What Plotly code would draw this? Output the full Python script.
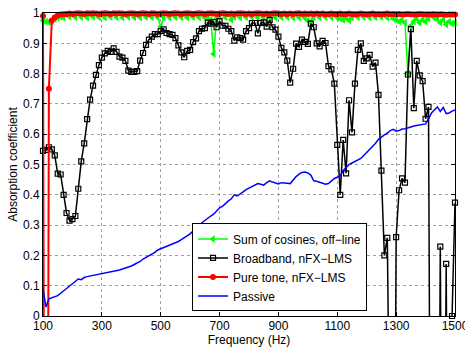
import plotly.graph_objects as go

freq = list(range(100, 1501, 10))

sum_cosines = [
    0.975, 0.972, 0.970, 0.974, 0.980, 0.984, 0.988, 0.985, 1.001, 0.988,
    1.004, 0.986, 1.002, 0.987, 1.004, 0.985, 1.001, 0.988, 1.004, 0.986,
    1.002, 0.985, 1.004, 0.987, 1.001, 0.986, 1.004, 0.985, 1.002, 0.987,
    1.004, 0.986, 1.001, 0.985, 1.004, 0.987, 1.002, 0.986, 1.004, 0.985,
    0.955, 0.986, 1.004, 0.985, 1.002, 0.987, 1.004, 0.986, 1.001, 0.985,
    1.004, 0.987, 1.002, 0.986, 1.004, 0.985, 0.982, 0.978, 0.865, 0.982,
    0.988, 1.004, 0.986, 1.002, 0.978, 0.987, 1.004, 0.985, 1.001, 0.986,
    1.004, 0.987, 1.002, 0.985, 1.004, 0.986, 1.001, 0.987, 1.004, 0.985,
    1.002, 0.986, 1.004, 0.987, 1.001, 0.985, 1.004, 0.986, 1.002, 0.984,
    0.975, 0.972, 0.986, 1.002, 0.985, 1.004, 0.987, 1.001, 0.986, 1.004,
    0.985, 0.982, 0.978, 0.984, 0.976, 0.985, 1.002, 0.986, 1.004, 0.987,
    1.001, 0.985, 1.004, 0.986, 1.002, 0.987, 1.004, 0.985, 1.001, 0.982,
    0.978, 0.972, 0.976, 0.968, 0.800, 0.958, 0.972, 0.982, 0.968, 0.978,
    0.972, 0.982, 0.995, 0.984, 0.980, 0.968, 0.978, 0.962, 0.972, 0.965,
    0.968,
]

broadband = [
    0.545, 0.548, 0.557, 0.550, 0.530, 0.470, 0.467, 0.400, 0.340, 0.315,
    0.320, 0.330, 0.420, 0.510, 0.570, 0.650, 0.714, 0.760, 0.796, 0.828,
    0.853, 0.867, 0.875, 0.872, 0.883, 0.872, 0.856, 0.853, 0.842, 0.810,
    0.806, 0.806, 0.808, 0.843, 0.868, 0.895, 0.912, 0.922, 0.930, 0.930,
    0.940, 0.946, 0.934, 0.930, 0.928, 0.917, 0.893, 0.870, 0.854, 0.875,
    0.878, 0.904, 0.916, 0.940, 0.948, 0.950, 0.968, 0.965, 0.970, 0.953,
    0.973, 0.958, 0.958, 0.948, 0.940, 0.909, 0.920, 0.917, 0.912, 0.940,
    0.950, 0.967, 0.967, 0.933, 0.967, 0.969, 0.955, 0.977, 0.953, 0.945,
    0.922, 0.885, 0.870, 0.843, 0.770, 0.816, 0.899, 0.888, 0.912, 0.905,
    0.898, 0.965, 0.953, 0.900, 0.890, 0.908, 0.901, 0.825, 0.814, 0.767,
    0.565, 0.400, 0.581, 0.471, 0.712, 0.606, 0.767, 0.878, 0.900, 0.842,
    0.850, 0.862, 0.823, 0.836, 0.730, 0.480, 0.200, 0.258, -1.5, -1.5,
    0.260, 0.415, 0.454, 0.440, 0.797, 0.947, 0.686, 0.842, 0.794, 0.775,
    0.651, 0.690, -1.5, -1.5, -1.5, 0.229, -1.5, 0.172, -1.5, 0.000,
    0.374,
]

pure_tone = [
    0.990, -3.0, 0.750, 0.975, 0.985, 0.992, 0.995, 0.996, 0.997, 0.998,
    0.997, 0.998, 0.999, 0.998, 0.997, 0.999, 0.998, 0.999, 0.998, 0.997,
    0.998, 0.999, 0.998, 0.997, 0.999, 0.998, 0.999, 0.998, 0.997, 0.998,
    0.999, 0.998, 0.997, 0.998, 0.999, 0.998, 0.997, 0.999, 0.998, 0.997,
    0.998, 0.999, 0.998, 0.997, 0.998, 0.999, 0.998, 0.997, 0.998, 0.999,
    0.998, 0.997, 0.998, 0.999, 0.998, 0.997, 0.998, 0.999, 0.998, 0.997,
    0.998, 0.999, 0.998, 0.997, 0.998, 0.997, 0.998, 0.999, 0.998, 0.997,
    0.998, 0.997, 0.998, 0.999, 0.998, 0.997, 0.998, 0.997, 0.998, 0.999,
    0.998, 0.997, 0.998, 0.997, 0.998, 0.997, 0.998, 0.999, 0.997, 0.998,
    0.997, 0.998, 0.997, 0.998, 0.997, 0.998, 0.996, 0.997, 0.998, 0.997,
    0.997, 0.998, 0.996, 0.997, 0.998, 0.997, 0.996, 0.997, 0.998, 0.997,
    0.996, 0.997, 0.998, 0.996, 0.997, 0.996, 0.997, 0.998, 0.996, 0.997,
    0.996, 0.997, 0.995, 0.996, 0.997, 0.996, 0.995, 0.996, 0.997, 0.996,
    0.995, 0.996, 0.995, 0.996, 0.995, 0.996, 0.995, 0.994, 0.995, 0.995,
    0.995,
]

passive = [
    0.089, 0.030, 0.057, 0.060, 0.063, 0.067, 0.075, 0.083, 0.092, 0.100,
    0.108, 0.115, 0.122, 0.120, 0.127, 0.130, 0.132, 0.134, 0.136, 0.137,
    0.138, 0.140, 0.144, 0.146, 0.147, 0.148, 0.152, 0.155, 0.158, 0.162,
    0.165, 0.170, 0.174, 0.180, 0.188, 0.193, 0.198, 0.204, 0.210, 0.218,
    0.222, 0.226, 0.228, 0.233, 0.236, 0.241, 0.246, 0.252, 0.258, 0.265,
    0.271, 0.280, 0.288, 0.297, 0.308, 0.316, 0.322, 0.330, 0.336, 0.345,
    0.357, 0.362, 0.372, 0.380, 0.387, 0.400, 0.396, 0.402, 0.410, 0.417,
    0.422, 0.427, 0.433, 0.437, 0.435, 0.432, 0.440, 0.446, 0.442, 0.440,
    0.436, 0.440, 0.440, 0.438, 0.437, 0.450, 0.460, 0.468, 0.474, 0.475,
    0.472, 0.465, 0.446, 0.445, 0.442, 0.438, 0.435, 0.437, 0.445, 0.454,
    0.458, 0.462, 0.480, 0.490, 0.500, 0.505, 0.510, 0.515, 0.520, 0.530,
    0.540, 0.548, 0.558, 0.570, 0.583, 0.592, 0.598, 0.603, 0.612, 0.616,
    0.610, 0.612, 0.617, 0.618, 0.620, 0.624, 0.627, 0.629, 0.630, 0.631,
    0.634, 0.650, 0.670, 0.680, 0.690, 0.675, 0.688, 0.668, 0.670, 0.676,
    0.680,
]

x_ticks = [100, 300, 500, 700, 900, 1100, 1300, 1500]
y_ticks = [0, 0.1, 0.2, 0.3, 0.4, 0.5, 0.6, 0.7, 0.8, 0.9, 1]
y_tick_labels = ["0", "0.1", "0.2", "0.3", "0.4", "0.5", "0.6", "0.7", "0.8", "0.9", "1"]

names = ["Sum of cosines, off\u2212line", "Broadband, nFX\u2212LMS",
         "Pure tone, nFX\u2212LMS", "Passive"]

FONT = "Liberation Sans, Arial, sans-serif"

fig = go.Figure()
fig.add_trace(go.Scatter(
    x=freq, y=sum_cosines, name=names[0], mode="lines+markers",
    line=dict(color="#00ff00", width=1.5),
    marker=dict(symbol="triangle-left", size=7, color="#00ff00"),
    cliponaxis=False))
fig.add_trace(go.Scatter(
    x=freq, y=broadband, name=names[1], mode="lines+markers",
    line=dict(color="black", width=1.5),
    marker=dict(symbol="square-open", size=5, color="black", line=dict(width=1.2)),
    cliponaxis=False))
fig.add_trace(go.Scatter(
    x=freq, y=pure_tone, name=names[2], mode="lines+markers",
    line=dict(color="#ff0000", width=2),
    marker=dict(symbol="circle", size=6, color="#ff0000"),
    cliponaxis=False))
fig.add_trace(go.Scatter(
    x=freq, y=passive, name=names[3], mode="lines",
    line=dict(color="#0000ff", width=1.5)))

axis_common = dict(
    showline=True, linecolor="black", linewidth=1, mirror="ticks",
    ticks="inside", ticklen=4, tickcolor="black",
    showgrid=True, gridcolor="#a0a0a0", gridwidth=1, griddash="dot",
    zeroline=False, automargin=False, ticklabeloverflow="allow",
    tickfont=dict(family=FONT, size=12, color="black"),
)

fig.update_xaxes(
    range=[100, 1500], tickvals=x_ticks, ticktext=[str(v) for v in x_ticks],
    ticklabelstandoff=-1,
    title=dict(text="Frequency (Hz)", standoff=1,
               font=dict(family=FONT, size=12, color="black")),
    **axis_common)
fig.update_yaxes(
    range=[0, 1], tickvals=y_ticks, ticktext=y_tick_labels,
    title=dict(text="Absorption coefficient", standoff=2,
               font=dict(family=FONT, size=12, color="black")),
    **axis_common)

fig.update_layout(
    width=465, height=347,
    margin=dict(l=43, r=10, t=13, b=31),
    paper_bgcolor="white", plot_bgcolor="white",
    showlegend=True,
    legend=dict(
        x=0.3617, y=0.015, xanchor="left", yanchor="bottom",
        bgcolor="white", bordercolor="black", borderwidth=1,
        font=dict(family=FONT, size=12, color="black"),
        tracegroupgap=0, entrywidth=192, entrywidthmode="pixels",
    ),
)

fig.write_html(
    "out.html",
    config={"displayModeBar": False},
    post_script="document.body.style.margin='0px';document.body.style.overflow='hidden';",
)
